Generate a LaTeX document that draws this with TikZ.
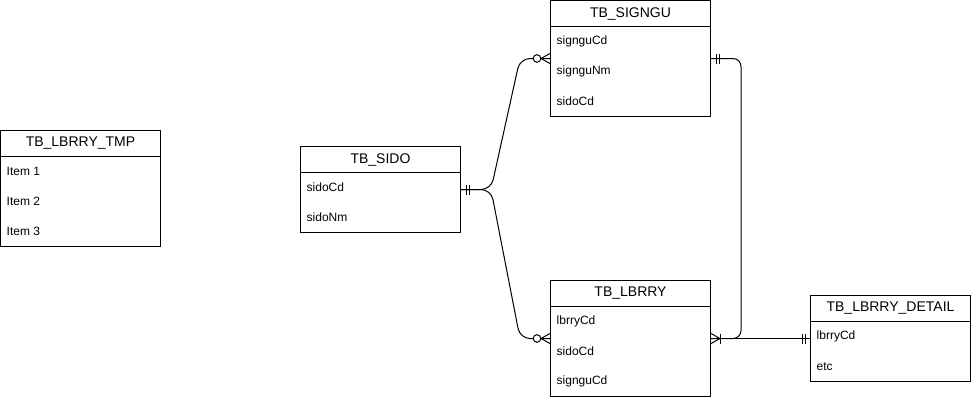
\documentclass[tikz,border=0pt]{standalone}
\usepackage{fontspec}
\setmainfont{Liberation Sans}
\usetikzlibrary{calc}
\tikzset{
  tabbox/.style={draw, line width=1pt, minimum width=160pt, inner sep=0pt, fill=white},
  hdrbox/.style={minimum width=160pt, minimum height=26pt, inner sep=0pt, font=\fontsize{14}{16}\selectfont},
  rowtxt/.style={anchor=west, inner sep=0pt, font=\fontsize{12}{14}\selectfont},
  conn/.style={line width=1pt},
  ermark/.style={line width=1pt}
}
\newcommand{\ertab}[5]{% name, x, y, height, title
  \node[tabbox, minimum height=#4pt] (#1) at (#2+80,#3+#4/2) {};
  \node[hdrbox] (#1-h) at (#2+80,#3+13) {#5};
  \draw[line width=1pt] (#1-h.south west) -- (#1-h.south east);
}
\newcommand{\ertrow}[5]{% tablename, index, x, y, text
  \node[rowtxt] (#1-r#2) at (#3+6,#4+26+30*#2-15) {#5};
}
\newcommand{\mandone}[2]{%
  \draw[ermark] ($(#1)+(#2*5,-5)$) -- ($(#1)+(#2*5,5)$);
  \draw[ermark] ($(#1)+(#2*8,-5)$) -- ($(#1)+(#2*8,5)$);
}
\newcommand{\zeromany}[2]{%
  \draw[ermark] ($(#1)+(0,-5)$) -- ($(#1)+(#2*9,0)$) -- ($(#1)+(0,5)$);
  \draw[ermark, fill=white] ($(#1)+(#2*13,0)$) circle (3.8);
}
\newcommand{\onemany}[2]{%
  \draw[ermark] ($(#1)+(0,-5)$) -- ($(#1)+(#2*9,0)$) -- ($(#1)+(0,5)$);
  \draw[ermark] ($(#1)+(#2*9,-5)$) -- ($(#1)+(#2*9,5)$);
}
\begin{document}
\begin{tikzpicture}[x=1pt,y=-1pt]
\useasboundingbox (0,0) rectangle (971,400);
% tables
\ertab{tmp}{0.5}{130.5}{116}{TB\_LBRRY\_TMP}
\ertrow{tmp}{1}{0.5}{130.5}{Item 1}
\ertrow{tmp}{2}{0.5}{130.5}{Item 2}
\ertrow{tmp}{3}{0.5}{130.5}{Item 3}

\ertab{signgu}{550.5}{0.5}{116}{TB\_SIGNGU}
\ertrow{signgu}{1}{550.5}{0.5}{signguCd}
\ertrow{signgu}{2}{550.5}{0.5}{signguNm}
\ertrow{signgu}{3}{550.5}{0.5}{sidoCd}

\ertab{sido}{300.5}{146.5}{86}{TB\_SIDO}
\ertrow{sido}{1}{300.5}{146.5}{sidoCd}
\ertrow{sido}{2}{300.5}{146.5}{sidoNm}

\ertab{lbrry}{550.5}{280.5}{116}{TB\_LBRRY}
\ertrow{lbrry}{1}{550.5}{280.5}{lbrryCd}
\ertrow{lbrry}{2}{550.5}{280.5}{sidoCd}
\ertrow{lbrry}{3}{550.5}{280.5}{signguCd}

\ertab{detail}{810.5}{295.5}{86}{TB\_LBRRY\_DETAIL}
\ertrow{detail}{1}{810.5}{295.5}{lbrryCd}
\ertrow{detail}{2}{810.5}{295.5}{etc}

\coordinate (detin) at (lbrry.east -| detail.west);

% connectors
\draw[conn, rounded corners=10pt] (sido.east) -- ($(sido.east)+(30,0)$) -- ($(signgu.west)+(-30,0)$) -- (signgu.west);
\draw[conn, rounded corners=10pt] (sido.east) -- ($(sido.east)+(30,0)$) -- ($(lbrry.west)+(-30,0)$) -- (lbrry.west);
\draw[conn, rounded corners=8pt] (signgu.east) -- ($(signgu.east)+(30,0)$) |- (lbrry.east);
\draw[conn] (lbrry.east) -- (detin);

% markers
\mandone{sido.east}{1}
\zeromany{signgu.west}{-1}
\zeromany{lbrry.west}{-1}
\mandone{signgu.east}{1}
\onemany{lbrry.east}{1}
\mandone{detin}{-1}
\end{tikzpicture}
\end{document}
